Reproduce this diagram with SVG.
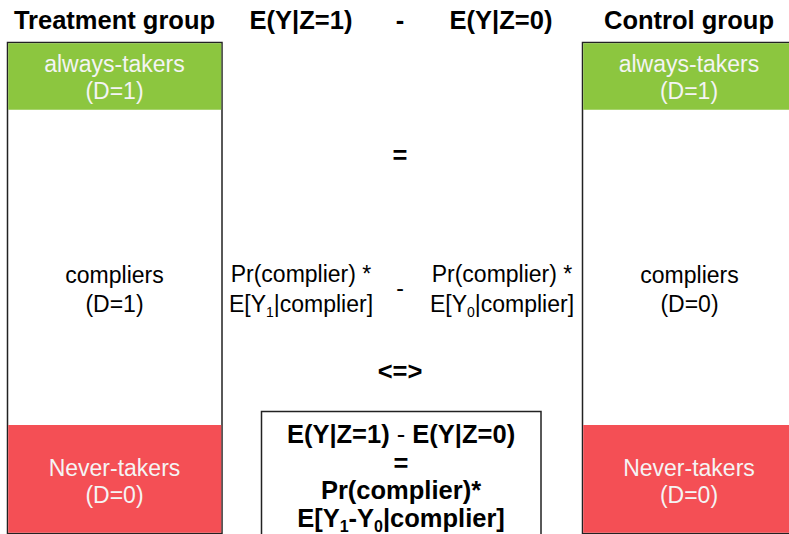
<svg xmlns="http://www.w3.org/2000/svg" width="789" height="534" viewBox="0 0 789 534">
  <style>
    .hd { font-family: "Liberation Sans", Arial, sans-serif; font-weight: bold; font-size: 25.5px; fill: #000; text-anchor: middle; }
    .bd { font-family: "Liberation Sans", Arial, sans-serif; font-weight: bold; font-size: 25.5px; fill: #000; text-anchor: middle; }
    .tx { font-family: "Liberation Sans", Arial, sans-serif; font-size: 23px; fill: #000; text-anchor: middle; }
    .wt { font-family: "Liberation Sans", Arial, sans-serif; font-size: 23px; fill: #f4f4f4; text-anchor: middle; }
    .frame { fill: #fff; stroke: #222; stroke-width: 1.5; }
    .green { fill: #8cc63f; }
    .red { fill: #f44f55; }
  </style>

  <!-- column titles -->
  <g id="titles">
    <text class="hd" x="114.5" y="29">Treatment group</text>
    <text class="hd" x="301" y="29">E(Y|Z=1)</text>
    <text class="hd" x="400" y="29">-</text>
    <text class="hd" x="501" y="29">E(Y|Z=0)</text>
    <text class="hd" x="689" y="29">Control group</text>
  </g>

  <!-- treatment group column -->
  <g id="treatment">
    <rect class="frame" x="7.5" y="42.5" width="214.5" height="491"/>
    <rect class="green" x="8.25" y="43.25" width="213" height="66.5"/>
    <rect class="red" x="8.25" y="425" width="213" height="107.75"/>
    <text class="wt" x="114.5" y="72">always-takers</text>
    <text class="wt" x="114.5" y="99">(D=1)</text>
    <text class="tx" x="114.5" y="283">compliers</text>
    <text class="tx" x="114.5" y="312">(D=1)</text>
    <text class="wt" x="114.5" y="476">Never-takers</text>
    <text class="wt" x="114.5" y="503">(D=0)</text>
  </g>

  <!-- control group column -->
  <g id="control">
    <rect class="frame" x="582.5" y="42.5" width="220" height="491"/>
    <rect class="green" x="583.25" y="43.25" width="220" height="66.5"/>
    <rect class="red" x="583.25" y="425" width="220" height="107.75"/>
    <text class="wt" x="689" y="72">always-takers</text>
    <text class="wt" x="689" y="99">(D=1)</text>
    <text class="tx" x="689.5" y="283">compliers</text>
    <text class="tx" x="689.5" y="312">(D=0)</text>
    <text class="wt" x="689" y="476">Never-takers</text>
    <text class="wt" x="689" y="503">(D=0)</text>
  </g>

  <!-- middle derivation -->
  <g id="derivation">
    <text class="bd" x="400" y="164">=</text>
    <text class="tx" x="301" y="282">Pr(complier) *</text>
    <text class="tx" x="301" y="312">E[Y<tspan font-size="14" dy="5">1</tspan><tspan dy="-5">|complier]</tspan></text>
    <text class="tx" x="400" y="296">-</text>
    <text class="tx" x="502" y="282">Pr(complier) *</text>
    <text class="tx" x="502" y="312">E[Y<tspan font-size="14" dy="5">0</tspan><tspan dy="-5">|complier]</tspan></text>
    <text class="bd" x="400" y="380">&lt;=&gt;</text>
  </g>

  <!-- result box -->
  <g id="result">
    <rect class="frame" x="261.5" y="411.5" width="279.5" height="130"/>
    <text class="bd" x="401" y="443">E(Y|Z=1) <tspan font-weight="normal">-</tspan> E(Y|Z=0)</text>
    <text class="bd" x="401" y="472">=</text>
    <text class="bd" x="401" y="499">Pr(complier)*</text>
    <text class="bd" x="401" y="527">E[Y<tspan font-size="16" dy="5">1</tspan><tspan dy="-5">-Y</tspan><tspan font-size="16" dy="5">0</tspan><tspan dy="-5">|complier]</tspan></text>
  </g>
</svg>
